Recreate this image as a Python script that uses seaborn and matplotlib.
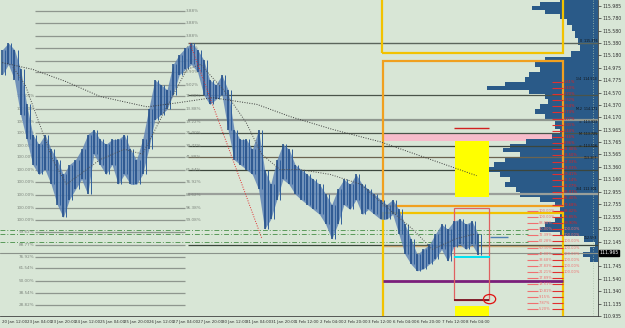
import matplotlib
matplotlib.use("Agg")
import matplotlib.pyplot as plt
from matplotlib.patches import Rectangle, Ellipse
import numpy as np
import pandas as pd
import seaborn as sns

sns.set_style("white")
plt.rcParams["font.family"] = ["DejaVu Sans"]

# %% data (x in hours since 20 Jan 12:00, y in price)

bar_time = list(range(0, 316, 4))
bar_high = [115.27, 115.38, 115.27, 114.95, 114.38, 113.89, 113.73, 113.89, 113.65, 113.48,
            113.24, 113.40, 113.48, 113.65, 113.89, 113.97, 113.81, 113.73, 113.81, 113.81,
            113.89, 113.65, 113.48, 113.81, 114.30, 114.78, 114.70, 114.62, 115.03, 115.19,
            115.30, 115.38, 115.27, 115.11, 114.78, 114.70, 114.86, 114.62, 113.97, 113.81,
            113.81, 113.65, 113.97, 113.32, 113.08, 113.48, 113.73, 113.65, 113.40, 113.32,
            113.24, 113.16, 113.08, 112.92, 112.75, 113.00, 113.16, 113.08, 113.24, 113.08,
            113.00, 112.92, 112.83, 112.75, 112.83, 112.67, 112.43, 112.19, 111.94, 112.02,
            112.10, 112.27, 112.43, 112.35, 112.48, 112.51, 112.43, 112.48, 112.27]
bar_low = [114.86, 115.03, 114.78, 114.21, 113.81, 113.40, 113.24, 113.32, 113.08, 112.75,
           112.54, 112.83, 113.00, 113.16, 112.92, 113.57, 113.40, 113.24, 113.40, 113.08,
           113.24, 113.08, 113.08, 113.24, 113.65, 114.13, 114.21, 114.30, 114.54, 114.86,
           114.95, 115.03, 114.91, 114.54, 114.38, 114.46, 114.54, 113.97, 113.48, 113.40,
           113.32, 113.24, 113.00, 112.35, 112.51, 112.83, 113.16, 113.08, 112.92, 112.83,
           112.75, 112.67, 112.59, 112.43, 112.19, 112.43, 112.75, 112.67, 112.83, 112.59,
           112.67, 112.59, 112.51, 112.51, 112.59, 112.27, 111.94, 111.78, 111.67, 111.70,
           111.78, 111.86, 112.02, 111.83, 112.06, 112.10, 112.02, 112.10, 111.93]

ma_slow_time = [0, 20, 42, 64, 95, 116, 138, 167, 189, 217, 248, 311]
ma_slow = [115.06, 114.95, 114.75, 114.51, 114.34, 114.41, 114.49, 114.38, 114.18, 113.97, 113.77, 113.22]

ma_fast_time = [7, 15, 33, 42, 51, 64, 80, 92, 107, 121, 130, 145, 160, 170, 182, 195, 215, 235,
                250, 269, 282, 297, 310]
ma_fast = [114.99, 114.70, 113.48, 113.08, 113.24, 113.48, 113.65, 113.57, 114.30, 114.95, 115.03,
           114.62, 114.08, 113.57, 113.32, 113.32, 113.24, 113.08, 112.75, 112.35, 112.02, 112.19,
           112.27]

# left fibonacci set of levels
fib_left = [115.90, 115.71, 115.50, 115.30, 115.09, 114.91, 114.70, 114.51, 114.31, 114.10,
            113.91, 113.71, 113.52, 113.31, 113.11, 112.90, 112.70, 112.49, 112.30, 112.09,
            111.89, 111.71, 111.50, 111.31, 111.11]
fib_left_right_lbl = ["3.88%", "3.88%", "3.88%", "4.77%", "5.30%", "6.90%", "9.02%", "11.88%",
                      "13.88%", "19.22%", "25.00%", "30.77%", "41.88%", "61.54%", "76.92%",
                      "84.62%", "96.38%", "99.08%", "", "", "", "", "", "", ""]
fib_left_left_lbl = ["", "", "", "", "", "", "", "100.00%", "100.00%", "100.00%", "100.00%",
                     "100.00%", "100.00%", "100.00%", "100.00%", "100.00%", "100.00%", "100.00%",
                     "99.62%", "88.77%", "76.92%", "61.54%", "50.00%", "38.54%", "28.82%"]

# levels drawn from the 27 Jan high to the right edge
right_levels = [115.38, 114.54, 114.12, 113.92, 113.71, 113.52, 113.32, 112.92, 112.09]
right_level_col = ["#5c665c", "#4a544a", "#8f978f", "#4a544a", "#3c463c", "#6c6450", "#3c463c",
                   "#9a9f9a", "#3c463c"]
right_level_lw = [1.0, 0.9, 1.6, 0.9, 0.9, 0.9, 0.9, 1.6, 0.9]
profile_tags = ["0  115.376", "1/4  114.553", "M.2  114.171", "=  113.933", "M  113.725",
                "=  113.516", "113.307", "3/4  112.901", "112.553"]
profile_tag_price = [115.42, 114.80, 114.30, 114.10, 113.90, 113.70, 113.50, 113.00, 112.20]

green_levels = [112.33, 112.27, 112.14]
bid = 111.965

# volume profile, price level vs length in hours
profile_price = [116.08, 116.00, 115.95, 115.89, 115.81, 115.72, 115.63, 115.51, 115.40, 115.30,
                 115.19, 115.11, 115.03, 114.95, 114.86, 114.78, 114.70, 114.65, 114.59, 114.51,
                 114.43, 114.34, 114.26, 114.18, 114.10, 114.02, 113.94, 113.86, 113.78, 113.70,
                 113.65, 113.57, 113.48, 113.40, 113.32, 113.24, 113.16, 113.08, 113.00, 112.92,
                 112.83, 112.75, 112.67, 112.59, 112.51, 112.43, 112.35, 112.27, 112.19, 112.10,
                 112.02, 111.94, 111.86, 111.78]
profile_vol = [25, 38, 43, 35, 25, 20, 17, 15, 13, 12, 18, 35, 41, 38, 45, 48, 61, 73, 45, 35,
               33, 38, 41, 35, 28, 28, 25, 30, 47, 58, 62, 51, 61, 68, 73, 64, 58, 61, 54, 51,
               38, 28, 25, 25, 28, 35, 38, 25, 9, 2, 5, 10, 5, 0]

# percentage ladder on the right
ladder_price = [114.75, 114.65, 114.55, 114.45, 114.35, 114.25, 114.15, 114.05, 113.95, 113.85,
                113.75, 113.65, 113.55, 113.45, 113.35, 113.25, 113.15, 113.05, 112.95, 112.85,
                112.75, 112.65, 112.55, 112.45, 112.35, 112.25, 112.15, 112.05, 111.95, 111.85,
                111.75, 111.65, 111.55, 111.45, 111.35, 111.25, 111.15, 111.05]
ladder_b = ["1.61%", "2.40%", "2.70%", "3.32%", "3.54%", "3.74%", "4.27%", "5.01%", "6.44%",
            "7.46%", "8.96%", "11.40%", "13.50%", "17.33%", "23.03%", "29.41%", "35.14%",
            "41.27%", "55.01%", "65.40%", "79.68%", "88.42%", "96.85%", "99.90%", "100.00%",
            "100.00%", "100.00%", "100.00%", "100.00%", "100.00%", "100.00%", "100.00%",
            "", "", "", "", "", ""]
ladder_a = ["", "", "", "", "", "", "", "", "", "", "", "", "", "", "", "", "", "", "", "", "",
            "100.00%", "100.00%", "88.88%", "80.00%", "72.39%", "62.28%", "50.10%", "42.08%",
            "33.68%", "27.83%", "21.21%", "17.89%", "13.51%", "10.81%", "9.15%", "7.87%", "5.20%"]

price_ticks = [115.985, 115.780, 115.580, 115.380, 115.180, 114.975, 114.775, 114.570, 114.370,
               114.170, 113.965, 113.765, 113.565, 113.360, 113.160, 112.955, 112.755, 112.555,
               112.350, 112.145, 111.745, 111.540, 111.340, 111.135, 110.935]
time_ticks = list(range(0, 320, 16))
time_labels = ["20 Jan 12:00", "23 Jan 04:00", "23 Jan 20:00", "24 Jan 12:00", "25 Jan 04:00",
               "25 Jan 20:00", "26 Jan 12:00", "27 Jan 04:00", "27 Jan 20:00", "30 Jan 12:00",
               "31 Jan 04:00", "31 Jan 20:00", "1 Feb 12:00", "2 Feb 04:00", "2 Feb 20:00",
               "3 Feb 12:00", "6 Feb 04:00", "6 Feb 20:00", "7 Feb 12:00", "8 Feb 04:00"]

# %% figure
bg = "#d8e6d6"
fig = plt.figure(figsize=(6.25, 3.28), dpi=100, facecolor=bg)
ax = fig.add_axes([0, 12 / 328, 598 / 625, 316 / 328], facecolor=bg)
x0, x1 = -1.5, 390.6
ax.set_xlim(x0, x1)
ax.set_ylim(110.95, 116.08)

# boxes and zones behind everything
ax.add_patch(Rectangle((249, 115.22), 118.7, 1.2, fill=False, ec="#f2c200", lw=1.6, zorder=2))
ax.add_patch(Rectangle((249.5, 112.72), 118.2, 2.37, fill=False, ec="#f0a020", lw=1.6, zorder=2))
ax.add_patch(Rectangle((249.5, 110.7), 118.2, 1.92, fill=False, ec="#f2c200", lw=1.6, zorder=2))
ax.add_patch(Rectangle((249.5, 113.79), 113, 0.13, color="#f7bccb", lw=0, zorder=1))
ax.add_patch(Rectangle((297, 112.88), 22.2, 0.9, color="#ffff00", lw=0, zorder=1.5))
ax.add_patch(Rectangle((297, 110.8), 22.2, 0.3, color="#ffff00", lw=0, zorder=1.5))

# volume profile
prof = pd.DataFrame({"price": profile_price, "vol": profile_vol})
ax.fill_betweenx(prof.price, x1 - prof.vol, x1, step="mid", color="#2a5a88", lw=0, zorder=1.2)
ax.axvline(387.3, color="#a9c4a9", lw=0.6, ls=(0, (1, 2)), zorder=1.3)

# left fib levels
for p, rl, ll in zip(fib_left, fib_left_right_lbl, fib_left_left_lbl):
    ax.hlines(p, 21.5, 119.8, color="#8e968e", lw=0.9, zorder=1)
    if rl:
        ax.text(120.5, p, rl, fontsize=3, color="#7c847c", va="center", ha="left")
    if ll:
        ax.text(21, p, ll, fontsize=3, color="#7c847c", va="center", ha="right")

# right levels
for p, c, w in zip(right_levels, right_level_col, right_level_lw):
    ax.hlines(p, 121.8, x1, color=c, lw=w, zorder=1.4)
for p, t in zip(profile_tag_price, profile_tags):
    ax.text(x1 - 0.5, p, t, fontsize=2.3, color="#101010", ha="right", va="center", zorder=6)

for p in green_levels:
    ax.hlines(p, x0, 345, color="#5a9a5a", lw=0.7, ls=(0, (5, 2, 1, 2)), zorder=1.6)
ax.axhline(bid, color="#8a928a", lw=0.8, zorder=1.6)

# short markers around the last swing
ax.hlines(112.08, 249.5, 367.7, color="#c8a878", lw=1.0, zorder=1.7)
ax.hlines(111.50, 249.5, 367.7, color="#7a1f7a", lw=2.0, zorder=2)
ax.hlines(114.00, 296.5, 319.2, color="#d22020", lw=1.0, zorder=2)
ax.hlines(112.22, 320, 331.6, color="#4f7fb0", lw=1.0, zorder=2)
ax.add_patch(Rectangle((296, 111.20), 23.2, 1.49, fill=False, ec="#e06060", lw=0.9, zorder=2))
ax.hlines(111.20, 296, 319.2, color="#7a1020", lw=1.3, zorder=2.1)
ax.hlines(111.89, 296, 320, color="#00e0f0", lw=1.4, zorder=2.1)
ax.add_patch(Ellipse((319.5, 111.21), 8, 0.15, fill=False, ec="#e01010", lw=0.9, zorder=2.2))

# ladder
for p, lb, la in zip(ladder_price, ladder_b, ladder_a):
    ax.hlines(p, 360.5, 367.5, color="#e03030", lw=0.8, zorder=3)
    strong = lb and lb != "100.00%"
    if lb:
        ax.text(368.2, p, lb, fontsize=2.6, color="#e02020" if strong else "#f07070",
                va="center", ha="left", zorder=5)
    if la:
        ax.hlines(p, 344, 351.3, color="#f07070", lw=0.8, zorder=3)
        ax.text(352, p, la, fontsize=2.6, color="#f07070", va="center", ha="left", zorder=5)

# price bars
ax.fill_between(bar_time, bar_low, bar_high, color="#5f84b6", lw=0, alpha=0.85, zorder=3.8)
ax.vlines(bar_time, bar_low, bar_high, color="#1d4a86", lw=1.1, zorder=4)
ax.vlines(np.array(bar_time) + 2, bar_low, bar_high, color="#2f5f9c", lw=0.7, zorder=4)

# moving averages and swing line
sns.lineplot(x=ma_slow_time, y=ma_slow, ax=ax, color="#3a3a3a", lw=0.7, ls=(0, (1, 1.5)), zorder=4.5)
sns.lineplot(x=ma_fast_time, y=ma_fast, ax=ax, color="#505050", lw=0.7, ls=(0, (1, 1.5)), zorder=4.5)
sns.lineplot(x=[123, 170.3], y=[115.38, 112.19], ax=ax, color="#e03030", lw=0.7, ls=(0, (1, 1.5)), zorder=4.5)

# axes
ax.yaxis.tick_right()
ax.set_yticks(price_ticks)
ax.set_yticklabels([f"{v:.3f}" for v in price_ticks])
ax.set_xticks(time_ticks)
ax.set_xticklabels(time_labels, ha="left")
ax.tick_params(axis="y", labelsize=3.3, colors="#303030", length=2, width=0.5, pad=1)
ax.tick_params(axis="x", labelsize=2.9, colors="#303030", length=2, width=0.5, pad=1)
ax.text(x1 + 1, bid, "111.965", fontsize=3.3, color="white", va="center", ha="left",
        bbox=dict(boxstyle="square,pad=0.15", fc="black", ec="black"))
for s in ["top", "left"]:
    ax.spines[s].set_visible(False)
for s in ["right", "bottom"]:
    ax.spines[s].set_color("#404040")
    ax.spines[s].set_linewidth(0.6)
ax.set_xlabel("")
ax.set_ylabel("")

fig.savefig("out.png", dpi=100, facecolor=bg)
